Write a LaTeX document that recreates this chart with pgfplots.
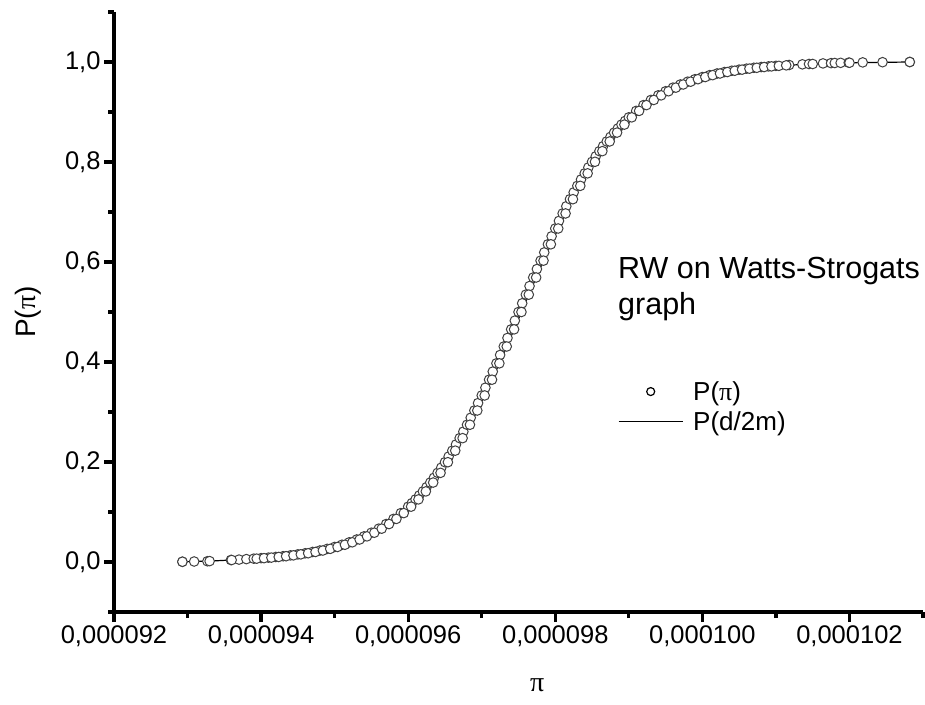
\documentclass[border=0pt]{standalone}
\usepackage{fontspec}
\setmainfont{Liberation Sans}
\newfontfamily\grk{Liberation Serif}
\usepackage{pgfplots}
\pgfplotsset{compat=1.18}

\pgfplotstableread{
x y
92.93 0.0005
93.30 0.0018
93.60 0.0040
93.94 0.0067
94.04 0.0077
94.14 0.0088
94.24 0.0101
94.34 0.0116
94.44 0.0133
94.54 0.0153
94.64 0.0175
94.74 0.0201
94.84 0.0230
94.94 0.0263
95.04 0.0301
95.14 0.0345
95.24 0.0394
95.34 0.0450
95.44 0.0513
95.54 0.0586
95.64 0.0667
95.74 0.0759
95.84 0.0862
95.94 0.0978
96.04 0.1107
96.14 0.1252
96.24 0.1412
96.34 0.1589
96.44 0.1783
96.54 0.1996
96.64 0.2227
96.74 0.2477
96.84 0.2745
96.94 0.3030
97.04 0.3331
97.14 0.3646
97.24 0.3973
97.34 0.4310
97.44 0.4653
97.54 0.5000
97.64 0.5347
97.74 0.5690
97.84 0.6027
97.94 0.6354
98.04 0.6670
98.14 0.6971
98.24 0.7256
98.34 0.7523
98.44 0.7773
98.54 0.8004
98.64 0.8217
98.74 0.8411
98.84 0.8588
98.94 0.8748
99.04 0.8893
99.14 0.9022
99.24 0.9138
99.34 0.9241
99.44 0.9333
99.54 0.9415
99.64 0.9487
99.74 0.9550
99.84 0.9606
99.94 0.9656
100.04 0.9699
100.14 0.9737
100.24 0.9770
100.34 0.9799
100.44 0.9825
100.54 0.9847
100.64 0.9867
100.74 0.9884
100.84 0.9899
100.94 0.9912
101.04 0.9923
101.14 0.9933
101.50 0.9960
102.00 0.9985
102.82 1.0000
}\theory

\pgfplotstableread{
x y
92.93 0.0005
93.09 0.0010
93.27 0.0015
93.59 0.0040
93.70 0.0048
93.80 0.0058
93.90 0.0067
94.00 0.0077
94.10 0.0088
94.20 0.0101
94.30 0.0116
94.40 0.0133
94.50 0.0153
94.60 0.0175
94.70 0.0201
94.80 0.0230
94.90 0.0263
95.00 0.0301
95.10 0.0345
95.20 0.0394
95.30 0.0450
95.40 0.0513
95.50 0.0586
95.60 0.0667
95.70 0.0759
95.80 0.0862
95.90 0.0978
96.00 0.1107
96.05 0.1178
96.10 0.1252
96.15 0.1330
96.20 0.1412
96.25 0.1498
96.30 0.1589
96.35 0.1684
96.40 0.1783
96.45 0.1887
96.50 0.1996
96.55 0.2109
96.60 0.2227
96.65 0.2350
96.70 0.2477
96.75 0.2608
96.80 0.2745
96.85 0.2885
96.90 0.3030
96.95 0.3178
97.00 0.3331
97.05 0.3487
97.10 0.3646
97.15 0.3808
97.20 0.3973
97.25 0.4141
97.30 0.4310
97.35 0.4481
97.40 0.4653
97.45 0.4827
97.50 0.5000
97.55 0.5174
97.60 0.5347
97.65 0.5519
97.70 0.5690
97.75 0.5859
97.80 0.6027
97.85 0.6192
97.90 0.6354
97.95 0.6514
98.00 0.6670
98.05 0.6822
98.10 0.6971
98.15 0.7115
98.20 0.7256
98.25 0.7392
98.30 0.7523
98.35 0.7650
98.40 0.7773
98.45 0.7891
98.50 0.8004
98.55 0.8113
98.60 0.8217
98.65 0.8316
98.70 0.8411
98.75 0.8502
98.80 0.8588
98.85 0.8670
98.90 0.8748
98.95 0.8822
99.00 0.8893
99.10 0.9022
99.20 0.9138
99.30 0.9241
99.40 0.9333
99.50 0.9415
99.60 0.9487
99.70 0.9550
99.80 0.9606
99.90 0.9656
100.00 0.9699
100.10 0.9737
100.20 0.9770
100.30 0.9799
100.40 0.9825
100.50 0.9847
100.60 0.9867
100.70 0.9884
100.80 0.9899
100.90 0.9912
101.00 0.9923
101.18 0.9940
101.36 0.9953
101.45 0.9960
101.64 0.9972
101.75 0.9977
101.80 0.9980
101.88 0.9983
101.99 0.9987
102.18 0.9992
102.45 0.9996
102.82 1.0000
}\observed

\begin{document}
\begin{tikzpicture}
\useasboundingbox (-114pt,-92pt) rectangle (811pt,612pt);
\begin{axis}[
  scale only axis, width=809pt, height=600pt,
  xmin=92, xmax=103, ymin=-0.1, ymax=1.1,
  axis x line=bottom, axis y line=left,
  axis line style={line width=3.4pt,-,black},
  every outer x axis line/.append style={line width=3.4pt,-,black},
  every outer y axis line/.append style={line width=3.4pt,-,black},
  xtick={92,94,96,98,100,102},
  xticklabels={{0,000092},{0,000094},{0,000096},{0,000098},{0,000100},{0,000102}},
  minor xtick={93,95,97,99,101,103},
  ytick={0,0.2,0.4,0.6,0.8,1.0},
  yticklabels={{0,0},{0,2},{0,4},{0,6},{0,8},{1,0}},
  minor ytick={-0.1,0.1,0.3,0.5,0.7,0.9,1.1},
  tick align=outside,
  major tick length=10pt, minor tick length=6pt,
  major tick style={black,line width=3.2pt},
  minor tick style={black,line width=3.2pt},
  ticklabel style={font=\fontsize{25.5}{25.5}\selectfont},
  xlabel={{\grk π}},
  ylabel={P({\grk π})},
  label style={font=\fontsize{28}{28}\selectfont},
  xlabel style={at={(axis description cs:0.523,-0.1217)}, anchor=center},
  ylabel style={at={(axis description cs:-0.1063,0.5)}, anchor=center},
  legend style={at={(axis description cs:0.623,0.388)}, anchor=north west,
    draw=none, fill=none, inner sep=0pt,
    font=\fontsize{26}{26}\selectfont, row sep=6pt,
    nodes={inner xsep=10pt}},
  legend cell align=left,
]
\addplot[only marks, mark=*, mark size=4.8pt,
  mark options={fill=white, draw=black!75, line width=1pt},
  legend image code/.code={\draw[black, line width=1.2pt] (32pt,0pt) circle (4pt);}]
  table {\observed};
\addlegendentry{P({\grk π})}
\addplot[only marks, mark=*, mark size=4.8pt, forget plot,
  mark options={fill=white, draw=black!75, line width=1pt}]
  table {\theory};
\addplot[black, line width=1.2pt,
  legend image code/.code={\draw[black, line width=1pt] (0pt,0pt) -- (64pt,0pt);}]
  table {\theory};
\addlegendentry{P(d/2m)}
\node[anchor=north west, align=left, inner sep=0pt,
  font=\fontsize{30.5}{36}\selectfont]
  at (axis description cs:0.623,0.592) {RW on Watts-Strogats\\graph};
\end{axis}
\end{tikzpicture}
\end{document}
